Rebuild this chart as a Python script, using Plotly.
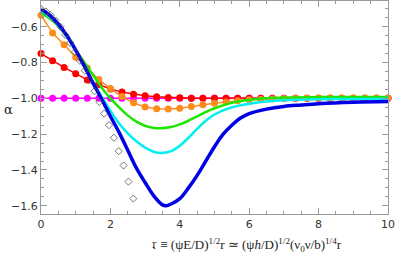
import plotly.graph_objects as go

# ---- data ----
step_x = [k / 3 for k in range(31)]  # marker grid (spacing 1/3)

magenta_y = [-1.0] * 31

red_y = [-0.75, -0.79, -0.827, -0.862, -0.897, -0.924, -0.947, -0.965, -0.977, -0.985,
         -0.991, -0.995, -0.997, -0.999, -1.0, -1.0, -1.0, -1.0, -1.0, -1.0,
         -1.0, -1.0, -1.0, -1.0, -1.0, -1.0, -1.0, -1.0, -1.0, -1.0, -1.0]

orange_y = [-0.535, -0.635, -0.70, -0.77, -0.83, -0.895, -0.945, -0.99, -1.025, -1.048,
            -1.058, -1.06, -1.055, -1.045, -1.035, -1.027, -1.02, -1.013, -1.008, -1.005,
            -1.003, -1.001, -1.0, -0.999, -0.998, -0.998, -0.998, -0.998, -0.998, -0.998, -0.998]

green_x = [0, 0.5, 1.0, 1.5, 1.75, 2.0, 2.25, 2.5, 2.75, 3.0, 3.25, 3.4, 3.75, 4.0, 4.25,
           4.5, 5.0, 5.5, 6.0, 6.5, 7.0, 8.0, 9.0, 10.0]
green_y = [-0.52, -0.595, -0.73, -0.87, -0.94, -1.0, -1.05, -1.095, -1.13, -1.153, -1.165,
           -1.167, -1.16, -1.145, -1.125, -1.1, -1.055, -1.025, -1.008, -0.999, -0.995,
           -0.993, -0.992, -0.992]

cyan_x = [0, 0.5, 1.0, 1.5, 1.75, 2.0, 2.25, 2.5, 2.75, 3.0, 3.25, 3.45, 3.75, 4.0, 4.25,
          4.5, 4.75, 5.0, 5.5, 6.0, 6.5, 7.0, 8.0, 9.0, 10.0]
cyan_y = [-0.51, -0.59, -0.735, -0.91, -0.99, -1.07, -1.14, -1.195, -1.24, -1.275, -1.298,
          -1.305, -1.295, -1.265, -1.22, -1.17, -1.125, -1.09, -1.05, -1.03, -1.017, -1.01,
          -1.005, -1.003, -1.002]

blue_x = [0, 0.25, 0.5, 0.75, 1.0, 1.25, 1.5, 1.75, 2.0, 2.25, 2.5, 2.75, 3.0, 3.25, 3.5,
          3.6, 3.75, 4.0, 4.25, 4.5, 4.75, 5.0, 5.25, 5.5, 5.75, 6.0, 6.5, 7.0, 7.5, 8.0,
          9.0, 10.0]
blue_y = [-0.5, -0.535, -0.585, -0.65, -0.73, -0.82, -0.915, -1.005, -1.10, -1.19, -1.29,
          -1.39, -1.47, -1.545, -1.595, -1.6, -1.59, -1.56, -1.5, -1.43, -1.35, -1.27,
          -1.2, -1.15, -1.11, -1.085, -1.06, -1.045, -1.037, -1.03, -1.022, -1.018]

diamond_x = [0, 0.14, 0.28, 0.42, 0.56, 0.70, 0.84, 0.98, 1.12, 1.26, 1.40, 1.54, 1.68,
             1.82, 1.96, 2.10, 2.24, 2.38, 2.52, 2.66]
diamond_y = [-0.5, -0.515, -0.535, -0.565, -0.60, -0.645, -0.69, -0.74, -0.79, -0.845, -0.90,
             -0.96, -1.02, -1.085, -1.15, -1.22, -1.295, -1.375, -1.465, -1.56]

x_ticks = [0, 2, 4, 6, 8, 10]
y_ticks = [-1.6, -1.4, -1.2, -1.0, -0.8, -0.6]

fig = go.Figure()

fig.add_trace(go.Scatter(x=step_x, y=magenta_y, mode="lines+markers",
                         line=dict(color="#ff00ff", width=1.5),
                         marker=dict(color="#ff00ff", size=7), cliponaxis=False))
fig.add_trace(go.Scatter(x=step_x, y=red_y, mode="lines+markers",
                         line=dict(color="#ff0000", width=1.5),
                         marker=dict(color="#ff0000", size=7), cliponaxis=False))
fig.add_trace(go.Scatter(x=step_x, y=orange_y, mode="lines+markers",
                         line=dict(color="#ff8c1a", width=1.5),
                         marker=dict(color="#ff8c1a", size=7), cliponaxis=False))
fig.add_trace(go.Scatter(x=green_x, y=green_y, mode="lines", line_shape="spline",
                         line=dict(color="#1ee600", width=2.5)))
fig.add_trace(go.Scatter(x=cyan_x, y=cyan_y, mode="lines", line_shape="spline",
                         line=dict(color="#00f0f0", width=2.5)))
fig.add_trace(go.Scatter(x=blue_x, y=blue_y, mode="lines", line_shape="spline",
                         line=dict(color="#0000e6", width=3.5)))
fig.add_trace(go.Scatter(x=diamond_x, y=diamond_y, mode="markers",
                         marker=dict(symbol="diamond-open", color="#555555", size=5.5,
                                     line=dict(width=0.8))))

axis_common = dict(showline=True, linecolor="#9a9a9a", linewidth=1, mirror="allticks",
                   ticks="inside", tickcolor="#9a9a9a", ticklen=6, zeroline=False,
                   showgrid=False, tickfont=dict(family="DejaVu Sans", size=11, color="#333333"))

fig.update_layout(
    width=395, height=253,
    margin=dict(l=41, r=7, t=1, b=39),
    paper_bgcolor="white", plot_bgcolor="white",
    showlegend=False,
    xaxis=dict(range=[0, 10], tickvals=x_ticks, ticktext=[str(v) for v in x_ticks],
               minor=dict(dtick=0.5, ticks="inside", ticklen=3, tickcolor="#9a9a9a"),
               **axis_common),
    yaxis=dict(range=[-1.646, -0.456], tickvals=y_ticks, tickformat=".1f",
               minor=dict(dtick=0.05, tick0=0, ticks="inside", ticklen=3, tickcolor="#9a9a9a"),
               **axis_common),
    annotations=[
        dict(text="α", xref="paper", yref="paper", x=-0.095, y=0.49, showarrow=False,
             font=dict(family="DejaVu Serif", size=13, color="#222222"), xanchor="center", yanchor="middle"),
        dict(text="𝔯 ≡ (ψE/D)<sup>1/2</sup>r ≃ (ψ<i>h</i>/D)<sup>1/2</sup>(ν<sub>0</sub>ν/b)<sup>1/4</sup>r",
             xref="paper", yref="paper", x=0.595, y=-0.093, showarrow=False,
             xanchor="center", yanchor="top",
             font=dict(family="Liberation Serif", size=13, color="#222222")),
    ],
)

fig.write_html("out.html", config={"displayModeBar": False},
               post_script="document.body.style.margin='0';document.body.style.overflow='hidden';")
